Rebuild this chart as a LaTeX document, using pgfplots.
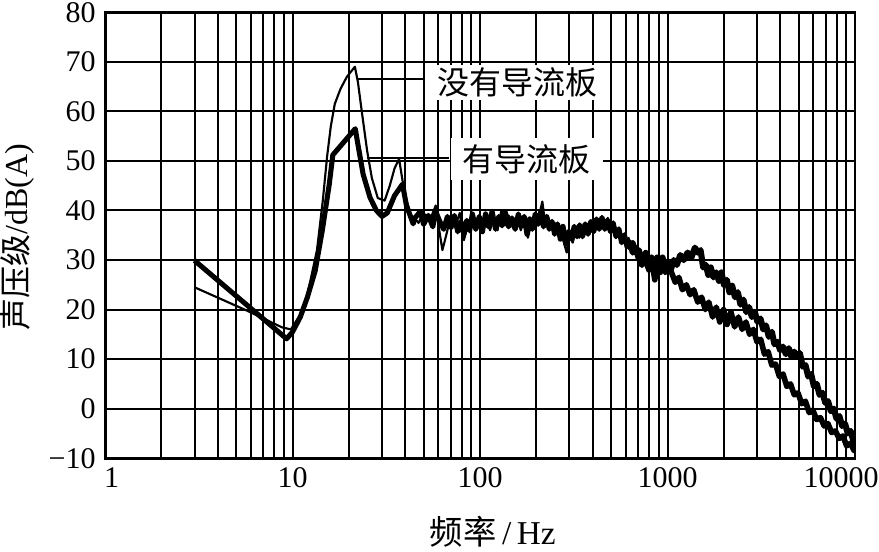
\documentclass[border=0pt]{standalone}
\usepackage{fontspec}
\setmainfont{Liberation Serif}
\newfontfamily\cjk{Noto Sans CJK SC}
\usepackage{pgfplots}
\pgfplotsset{compat=1.18}

\begin{document}
\begin{tikzpicture}
\begin{axis}[
  scale only axis, width=281.25pt, height=167.25pt,
  xmode=log, xmin=1, xmax=10000, ymin=-10, ymax=80,
  xtick={1,10,100,1000,10000}, xticklabels={\hspace*{5pt}1,10,100,1000,\hspace*{-10.5pt}10000},
  minor xtick={2,3,4,5,6,7,8,9,20,30,40,50,60,70,80,90,200,300,400,500,600,700,800,900,2000,3000,4000,5000,6000,7000,8000,9000},
  ytick={-10,0,10,20,30,40,50,60,70,80},
  yticklabels={−10,0,10,20,30,40,50,60,70,80},
  grid=both,
  major grid style={black, line width=0.75pt},
  minor grid style={black, line width=0.75pt},
  axis line style={line width=1.1pt},
  major tick length=0pt, minor tick length=0pt,
  tick label style={font=\fontsize{11.25}{13}\selectfont},
  xlabel={{\cjk 频率}\,/\,Hz},
  ylabel={{\cjk 声压级}/dB(A)},
  xlabel style={font=\fontsize{12.5}{14}\selectfont, at={(axis description cs:0.517,-0.164)}, anchor=center},
  ylabel style={font=\fontsize{12}{14}\selectfont, at={(axis description cs:-0.1173,0.495)}, anchor=center},
  clip=true,
]
% 有导流板 (thick), low/mid part
\addplot[black, line width=1.9pt, line join=round] coordinates {
(3,29.9)(9.3,14.1)(10,15.5)(11,18.5)(12,22.5)(13.2,27.8)(14.4,35.9)(15.7,45.3)(16.4,51.2)(21.6,56.5)(22.3,53.4)(23.8,47.3)(25.9,42.6)(28,40)(30,38.8)(32,39.5)(35,43)(38.6,45.3)(40.5,41)(44,37.3)
(45,38.5)(48,39.8)(50,37.2)(53,39)(56,36.7)(58,39.8)(61,37.8)(64,36.2)(67,38.8)(70,36.5)(73,39)(76,35.7)(79,37.8)(82,35.2)(85,38)(88,35.9)(91,39.3)(95,36.2)(99,38.8)(103,35.7)(107,39.3)(111,36.7)(116,39.8)(121,36.2)(126,38.8)(131,36.9)(136,39.8)(142,36.7)(148,38.5)(154,36.2)(160,39.3)(166,36.7)(172,38.8)(178,35.2)(184,38.3)(190,36.2)(197,39.3)(204,37.2)(211,39.8)(218,36.7)(226,38.8)(234,36.2)(242,37.8)(250,35.2)(259,37.3)(268,34.2)(277,36.8)(287,33.2)(297,35.8)(307,34.2)(318,36.8)(329,34.7)(340,37.1)(352,34.7)(364,37.3)(377,35.2)(390,37.8)(404,35.7)(418,38.3)(432,36.2)(447,38.6)(463,36.2)(479,38.1)(496,35.7)(513,37.5)(531,34.7)(550,36.3)(569,33.5)(589,35.1)(610,32.5)
};
% 有导流板 (thick), high part
\addplot[black, line width=2.3pt, line join=round] coordinates {
(610,32.5)(631,33.5)(653,31.5)(676,32.5)(700,30.5)(730,29)(760,31)(790,28.5)(820,30.5)(850,27.5)(880,30.5)(910,28.5)(940,30.5)(970,28.5)(1000,29.5)(1040,28)(1080,30)(1120,29)(1170,31)(1220,30)(1280,31.5)(1340,30.5)(1400,32.5)(1450,31.5)(1500,32)(1550,28.5)(1600,29)(1650,27)(1700,28.5)(1760,26.5)(1820,27.5)(1880,25.8)(1940,27.5)(2000,25)(2070,26)(2140,23.5)(2210,24.8)(2290,22.5)(2370,23.5)(2450,21)(2540,22)(2630,19.5)(2720,20.5)(2820,18.5)(2920,19.5)(3020,17.5)(3130,18.2)(3240,16)(3350,16.8)(3470,14.5)(3600,15.5)(3720,13)(3850,13.5)(3990,11.8)(4130,12.5)(4280,11)(4430,12.2)(4580,10.5)(4740,11.5)(4900,10.5)(5080,11.2)(5260,8.5)(5440,8.8)(5630,6.5)(5830,7)(6040,4.5)(6250,5)(6470,2.8)(6700,3.2)(6940,1.2)(7180,1.5)(7430,-0.5)(7700,0)(7970,-2)(8250,-1.5)(8540,-3.5)(8840,-3)(9150,-5)(9470,-4.5)(9800,-6.5)(10000,-5.5)
};
% 没有导流板 (thin), low-frequency part
\addplot[black, line width=0.8pt, line join=round] coordinates {
(3,24.5)(5.7,19.8)(8.8,16.4)(9.8,16)(11,19)(12,23)(13.5,32)(14.5,42)(15.3,51)(16,57)(16.8,61.5)(18,64.5)(19.5,67)(21.5,69)(22.3,66)(23.4,60)(25,52)(26.5,46.5)(28.5,42.5)(31,42)(33,45)(35,48.5)(37,50.4)(39,45)(40.5,42)(43,39)
(44,38.7)(47,37.5)(50,39.5)(54,38)(58,41)(60,37)(63,32)(66,35)(70,39)(74,37)(78,39.5)(82,34)(86,37)(90,39)(94,36)(98,38.5)(103,35.5)(108,39.5)(113,36)(118,38.5)(124,36)(130,40)(136,37)(142,39)(150,36.5)(158,38.5)(165,36)(172,39)(180,34.5)(188,37.5)(196,36.5)(205,38.5)(215,41.8)(222,37.5)(230,39)(240,36.5)(250,37.5)(260,35)(270,36)(280,33.5)(290,31.5)(300,35)(312,33.5)(325,36)(338,34.5)(352,36.5)(366,35.5)(381,37.5)(396,36)(412,38)(428,36.5)(445,38.5)(462,37)(480,38.5)(498,36.5)(518,37.5)(538,35.5)(560,35.5)(582,33.5)(605,34.5)
};
% 没有导流板 (thin), high-frequency part
\addplot[black, line width=2.1pt, line join=round] coordinates {
(605,34.5)(628,32.5)(652,33.5)(678,31.5)(705,32)(735,29.5)(765,31.5)(795,28)(825,30)(855,26)(885,29.5)(915,27.5)(945,30)(975,27.5)(1000,28)(1050,27.5)(1100,25.5)(1150,26.5)(1200,24)(1260,25)(1320,23)(1380,24)(1450,21.5)(1520,22.5)(1590,20)(1660,21.5)(1740,18.5)(1820,20.5)(1900,17.5)(1990,20)(2080,17)(2180,19.5)(2280,16.5)(2390,18.5)(2500,16)(2620,17.5)(2740,15)(2870,16)(3000,13.5)(3140,14)(3290,11)(3440,11.5)(3600,8.8)(3770,9)(3950,6.5)(4130,7)(4330,4.5)(4530,5)(4740,2.8)(4960,3.2)(5200,1)(5440,1.5)(5700,-0.8)(5960,-0.3)(6240,-2.2)(6540,-1.8)(6850,-3.5)(7170,-3)(7500,-4.8)(7860,-4.5)(8230,-6)(8620,-5.5)(9020,-7.5)(9450,-7)(9900,-8.5)(10000,-8)
};
% leader lines and labels
\draw[black, line width=0.75pt] (axis cs:22,66.5) -- (axis cs:51,66.5);
\draw[black, line width=0.75pt] (axis cs:24.9,50.6) -- (axis cs:68,50.6);
\node[fill=white, anchor=west, inner xsep=3.75pt, inner ysep=1pt, font=\cjk\fontsize{12}{14}\selectfont] at (axis cs:52.2,65.8) {没有导流板};
\node[fill=white, anchor=west, inner xsep=4.5pt, inner ysep=2.2pt, font=\cjk\fontsize{12}{14}\selectfont] at (axis cs:69.2,50.4) {有导流板};
\end{axis}
\pgfresetboundingbox
\path[use as bounding box] ([xshift=-39.4pt,yshift=-35pt]current axis.south west) rectangle ([xshift=9pt,yshift=4.6pt]current axis.north east);
\end{tikzpicture}
\end{document}
